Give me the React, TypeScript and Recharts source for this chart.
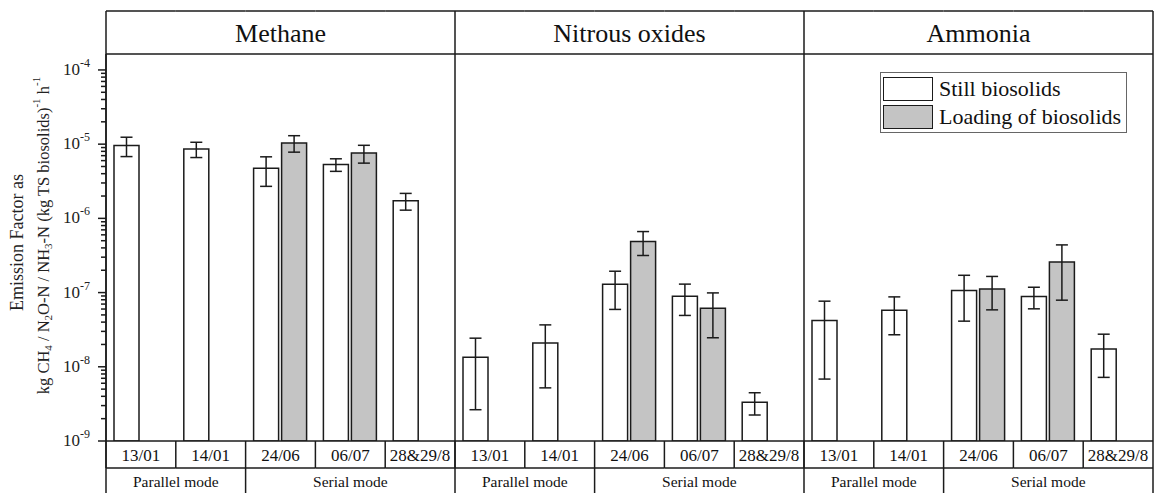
import React from 'react';
import { BarChart, Bar, XAxis, YAxis, ErrorBar, Legend } from 'recharts';

// ---- data ---------------------------------------------------------------
const gases = ['Methane', 'Nitrous oxides', 'Ammonia'];
const dates = ['13/01', '14/01', '24/06', '06/07', '28&29/8'];
const modeOfDate = ['Parallel mode', 'Parallel mode', 'Serial mode', 'Serial mode', 'Serial mode'];
const seriesNames = ['Still biosolids', 'Loading of biosolids'];

// Still biosolids: mean, lower and upper error limits per date
const methaneStill = [9.6e-6, 8.6e-6, 4.75e-6, 5.3e-6, 1.73e-6];
const methaneStillLow = [6.8e-6, 6.6e-6, 2.7e-6, 4.3e-6, 1.29e-6];
const methaneStillHigh = [1.24e-5, 1.06e-5, 6.75e-6, 6.35e-6, 2.17e-6];

const nitrousStill = [1.34e-8, 2.1e-8, 1.29e-7, 8.95e-8, 3.32e-9];
const nitrousStillLow = [2.64e-9, 5.2e-9, 5.93e-8, 4.92e-8, 2.24e-9];
const nitrousStillHigh = [2.43e-8, 3.67e-8, 1.94e-7, 1.3e-7, 4.47e-9];

const ammoniaStill = [4.21e-8, 5.8e-8, 1.07e-7, 8.87e-8, 1.73e-8];
const ammoniaStillLow = [6.83e-9, 2.7e-8, 4.12e-8, 6.04e-8, 7.2e-9];
const ammoniaStillHigh = [7.66e-8, 8.75e-8, 1.71e-7, 1.18e-7, 2.75e-8];

// Loading of biosolids (only measured in serial mode on two dates)
const methaneLoading = [null, null, 1.04e-5, 7.6e-6, null];
const methaneLoadingLow = [null, null, 7.8e-6, 5.55e-6, null];
const methaneLoadingHigh = [null, null, 1.3e-5, 9.65e-6, null];

const nitrousLoading = [null, null, 4.87e-7, 6.17e-8, null];
const nitrousLoadingLow = [null, null, 3.16e-7, 2.46e-8, null];
const nitrousLoadingHigh = [null, null, 6.64e-7, 9.9e-8, null];

const ammoniaLoading = [null, null, 1.12e-7, 2.59e-7, null];
const ammoniaLoadingLow = [null, null, 5.85e-8, 7.9e-8, null];
const ammoniaLoadingHigh = [null, null, 1.65e-7, 4.39e-7, null];

const majorTicks = [1e-9, 1e-8, 1e-7, 1e-6, 1e-5, 1e-4];
const minorMultipliers = [2, 3, 4, 5, 6, 7, 8, 9];
const yDomain: [number, number] = [1e-9, 1.64e-4];

// ---- table for recharts ------------------------------------------------
const seriesByGas = [
  { still: methaneStill, sLo: methaneStillLow, sHi: methaneStillHigh, load: methaneLoading, lLo: methaneLoadingLow, lHi: methaneLoadingHigh },
  { still: nitrousStill, sLo: nitrousStillLow, sHi: nitrousStillHigh, load: nitrousLoading, lLo: nitrousLoadingLow, lHi: nitrousLoadingHigh },
  { still: ammoniaStill, sLo: ammoniaStillLow, sHi: ammoniaStillHigh, load: ammoniaLoading, lLo: ammoniaLoadingLow, lHi: ammoniaLoadingHigh },
];

const errPair = (v: number | null, lo: number | null, hi: number | null) =>
  v == null || lo == null || hi == null ? null : [v - lo, hi - v];

const rows = gases.flatMap((gas, g) =>
  dates.map((date, i) => {
    const s = seriesByGas[g];
    return {
      key: `${gas} ${date}`,
      still: s.still[i],
      stillErr: errPair(s.still[i], s.sLo[i], s.sHi[i]),
      loading: s.load[i],
      loadingErr: errPair(s.load[i], s.lLo[i], s.lHi[i]),
    };
  })
);

const yTicks = majorTicks.flatMap((t, k) =>
  k < majorTicks.length - 1 ? [t, ...minorMultipliers.map((m) => m * t)] : [t]
);

// ---- layout / style ----------------------------------------------------
const FONT = '"Liberation Serif", "Times New Roman", serif';
const LINE = '#1b1b1b';
const LW = 1.5;
const CHART_W = 1154;
const CHART_H = 493;
const Y_AXIS_W = 106;
const RIGHT_GAP = 1;
const TOP_GAP = 11;
const HEADER_H = 43;
const FOOTER_H = 52;
const DATE_ROW_H = 27;
const BAND = (CHART_W - Y_AXIS_W - RIGHT_GAP) / rows.length;

const isMajor = (v: number) => Math.abs(Math.log10(v) - Math.round(Math.log10(v))) < 1e-6;

function LogTick(props: any) {
  const { x, y, payload } = props;
  const v = payload.value as number;
  const major = isMajor(v);
  const exp = Math.round(Math.log10(v));
  return (
    <g>
      <line x1={x - (major ? 8 : 5)} x2={x} y1={y} y2={y} stroke={LINE} strokeWidth={LW} />
      {major && (
        <text x={x - 16} y={y + 5} textAnchor="end" fontFamily={FONT} fontSize={17} fill="#222">
          10<tspan fontSize={12} dy={-8}>{`${exp}`}</tspan>
        </text>
      )}
    </g>
  );
}

function HeaderTick(props: any) {
  const { x, y, index } = props;
  const i = index % dates.length;
  const g = Math.floor(index / dates.length);
  const left = x - BAND / 2;
  const right = x + BAND / 2;
  return (
    <g>
      <line x1={left} x2={right} y1={TOP_GAP} y2={TOP_GAP} stroke={LINE} strokeWidth={LW} />
      {i === Math.floor(dates.length / 2) && (
        <text x={x} y={(TOP_GAP + y) / 2 + 9} textAnchor="middle" fontFamily={FONT} fontSize={26} fill="#111">
          {gases[g]}
        </text>
      )}
    </g>
  );
}

function FooterTick(props: any) {
  const { x, y, index } = props;
  const i = index % dates.length;
  const left = x - BAND / 2;
  const right = x + BAND / 2;
  const rowBottom = y + DATE_ROW_H;
  const startsMode = i === 0 || modeOfDate[i] !== modeOfDate[i - 1];
  let span = 0;
  if (startsMode) {
    while (i + span < dates.length && modeOfDate[i + span] === modeOfDate[i]) span++;
  }
  return (
    <g>
      <line x1={left} x2={right} y1={rowBottom} y2={rowBottom} stroke={LINE} strokeWidth={LW} />
      <line x1={left} x2={left} y1={y} y2={rowBottom} stroke={LINE} strokeWidth={LW} />
      {i === 0 && <line x1={left} x2={left} y1={TOP_GAP} y2={CHART_H} stroke={LINE} strokeWidth={LW} />}
      {startsMode && i !== 0 && (
        <line x1={left} x2={left} y1={rowBottom} y2={CHART_H} stroke={LINE} strokeWidth={LW} />
      )}
      {index === rows.length - 1 && (
        <line x1={right} x2={right} y1={TOP_GAP} y2={CHART_H} stroke={LINE} strokeWidth={LW} />
      )}
      <text x={x} y={y + 19.5} textAnchor="middle" fontFamily={FONT} fontSize={17} fill="#111">
        {dates[i]}
      </text>
      {startsMode && (
        <text x={left + (span * BAND) / 2} y={rowBottom + 18.5} textAnchor="middle" fontFamily={FONT} fontSize={15.5} fill="#111">
          {modeOfDate[i]}
        </text>
      )}
    </g>
  );
}

function AxisTitle(props: any) {
  const vb = props.viewBox || { x: 0, y: 0, width: Y_AXIS_W, height: CHART_H };
  const cy = vb.y + vb.height / 2 - 5;
  return (
    <g fontFamily={FONT} fill="#222">
      <text transform={`translate(17,${cy}) rotate(-90)`} textAnchor="middle" dominantBaseline="central" fontSize={18}>
        Emission Factor as
      </text>
      <text transform={`translate(43,${cy - 7}) rotate(-90)`} textAnchor="middle" dominantBaseline="central" fontSize={16.5}>
        <tspan>kg CH</tspan><tspan fontSize={11} dy={5}>4</tspan><tspan dy={-5}> / N</tspan><tspan fontSize={11} dy={5}>2</tspan><tspan dy={-5}>O-N / NH</tspan><tspan fontSize={11} dy={5}>3</tspan><tspan dy={-5}>-N (kg TS biosolids)</tspan><tspan fontSize={11} dy={-7}>-1</tspan><tspan dy={7}> h</tspan><tspan fontSize={11} dy={-7}>-1</tspan>
      </text>
    </g>
  );
}

function LegendBox(props: any) {
  const items = [...(props.payload || [])].sort(
    (a: any, b: any) => seriesNames.indexOf(a.value) - seriesNames.indexOf(b.value)
  );
  return (
    <div
      style={{
        border: '1px solid #666',
        background: '#fff',
        padding: '2px 5px 1px 2px',
        fontFamily: FONT,
        fontSize: 22,
        color: '#111',
      }}
    >
      {items.map((it: any) => (
        <div key={it.value} style={{ display: 'flex', alignItems: 'center', height: 28 }}>
          <span
            style={{
              display: 'inline-block',
              width: 48,
              height: 22,
              border: `1.5px solid ${LINE}`,
              background: it.color,
              marginRight: 6,
            }}
          />
          <span style={{ whiteSpace: 'nowrap' }}>{it.value}</span>
        </div>
      ))}
    </div>
  );
}

export default function App() {
  return (
    <div style={{ position: 'absolute', left: 0, top: 0, width: CHART_W, height: CHART_H, background: '#fff' }}>
      <BarChart
        width={CHART_W}
        height={CHART_H}
        data={rows}
        margin={{ top: TOP_GAP, right: RIGHT_GAP, bottom: 0, left: 0 }}
        barCategoryGap={8}
        barGap={3}
      >
        <XAxis
          dataKey="key"
          height={FOOTER_H}
          interval={0}
          tickSize={0}
          tickMargin={0}
          tickLine={false}
          axisLine={{ stroke: LINE, strokeWidth: LW }}
          tick={<FooterTick />}
        />
        <XAxis
          xAxisId="top"
          orientation="top"
          dataKey="key"
          height={HEADER_H}
          interval={0}
          tickSize={0}
          tickMargin={0}
          tickLine={false}
          axisLine={{ stroke: LINE, strokeWidth: LW }}
          tick={<HeaderTick />}
        />
        <YAxis
          type="number"
          scale="log"
          domain={yDomain}
          allowDataOverflow
          ticks={yTicks}
          interval={0}
          width={Y_AXIS_W}
          tickSize={0}
          tickMargin={0}
          tickLine={false}
          axisLine={{ stroke: LINE, strokeWidth: LW }}
          tick={<LogTick />}
          label={<AxisTitle />}
        />
        <Legend
          layout="vertical"
          align="center"
          verticalAlign="middle"
          content={<LegendBox />}
          wrapperStyle={{ left: 880, top: 72, right: 'auto', bottom: 'auto', width: 'auto' }}
        />
        <Bar dataKey="still" name={seriesNames[0]} fill="#ffffff" stroke={LINE} strokeWidth={LW} isAnimationActive={false}>
          <ErrorBar dataKey="stillErr" direction="y" width={6} stroke={LINE} strokeWidth={LW} />
        </Bar>
        <Bar dataKey="loading" name={seriesNames[1]} fill="#c4c4c4" stroke={LINE} strokeWidth={LW} isAnimationActive={false}>
          <ErrorBar dataKey="loadingErr" direction="y" width={6} stroke={LINE} strokeWidth={LW} />
        </Bar>
      </BarChart>
    </div>
  );
}
